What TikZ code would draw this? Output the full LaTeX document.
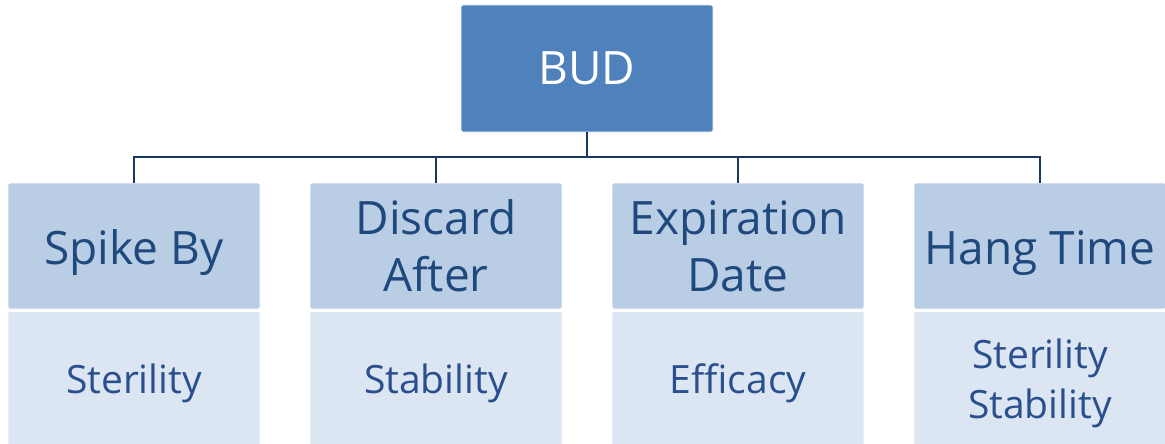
\documentclass[tikz,border=0pt]{standalone}
\usepackage{fontspec}
\setmainfont{Open Sans}
\definecolor{budfill}{HTML}{4F81BD}
\definecolor{topfill}{HTML}{B9CDE5}
\definecolor{botfill}{HTML}{DCE6F2}
\definecolor{toptext}{HTML}{1F497D}
\definecolor{bottext}{HTML}{2A4F8F}
\definecolor{linecol}{HTML}{17375E}
\tikzset{
  budbox/.style={draw=white, line width=0.8pt, fill=budfill, rounded corners=1.5pt, minimum width=252pt, minimum height=127pt, inner sep=0pt, text=white, font=\fontsize{46}{52}\selectfont},
  headbox/.style={draw=white, line width=0.8pt, fill=topfill, rounded corners=1.5pt, minimum width=252pt, minimum height=126pt, inner sep=0pt, text=toptext, align=center, font=\fontsize{46}{57}\selectfont},
  subbox/.style={draw=white, line width=0.8pt, fill=botfill, rounded corners=1.5pt, minimum width=252pt, minimum height=144pt, inner sep=0pt, text=bottext, align=center, font=\fontsize{39}{50}\selectfont},
  conn/.style={draw=linecol, line width=2.2pt}
}
\begin{document}
\begin{tikzpicture}[x=1pt,y=-1pt]
\useasboundingbox (0,0) rectangle (1165,444);
\node[budbox] (bud) at (587,68.5) {BUD};
\node[headbox] (h1) at (134,246) {};
\node[headbox] (h2) at (436,246) {Discard\\After};
\node[headbox] (h3) at (738,246) {Expiration\\Date};
\node[headbox] (h4) at (1040,246) {};
\node[text=toptext, font=\fontsize{46}{57}\selectfont, inner sep=0pt] (t1) at (134,253) {Spike By};
\node[text=toptext, font=\fontsize{46}{57}\selectfont, inner sep=0pt] (t4) at (1040,253) {Hang Time};
\node[subbox, anchor=north] (s1) at (134,311) {Sterility};
\node[subbox, anchor=north] (s2) at (436,311) {Stability};
\node[subbox, anchor=north] (s3) at (738,311) {Efficacy};
\node[subbox, anchor=north] (s4) at (1040,311) {Sterility\\Stability};
\coordinate (j) at (587,157);
\draw[conn] (bud.south) -- (j);
\draw[conn] (h1.north) |- (j);
\draw[conn] (h4.north) |- (j);
\draw[conn] (h2.north) -- (h2.north |- j);
\draw[conn] (h3.north) -- (h3.north |- j);
\end{tikzpicture}
\end{document}
